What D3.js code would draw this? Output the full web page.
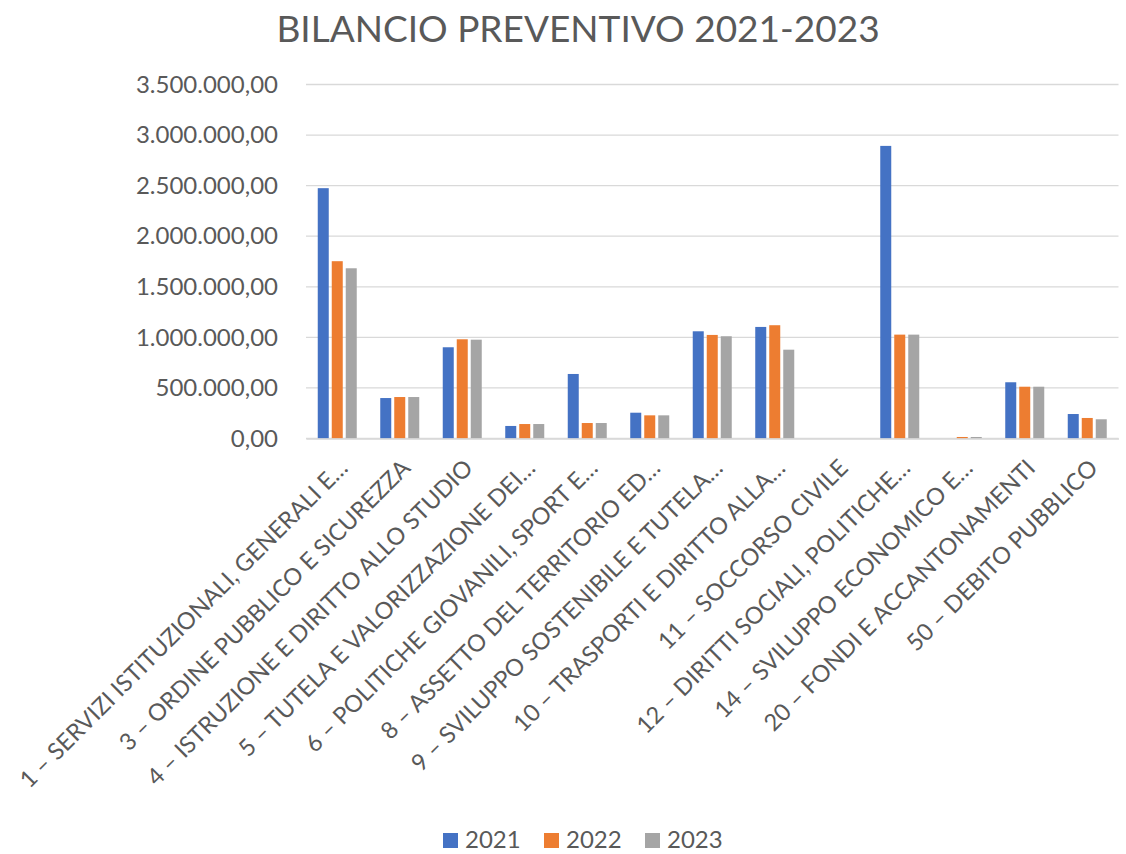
<!DOCTYPE html>
<html>
<head>
<meta charset="utf-8">
<script src="https://cdn.jsdelivr.net/npm/d3@7"></script>
<style>
  body { margin: 0; background: #fff; }
  svg text { font-family: Lato, "Open Sans", sans-serif; fill: #595959; }
</style>
</head>
<body>
<div id="chart"></div>
<script>
'use strict';

// categories (Excel truncated the long ones with an ellipsis)
var categories = [
  '1 – SERVIZI ISTITUZIONALI, GENERALI E…',
  '3 – ORDINE PUBBLICO E SICUREZZA',
  '4 – ISTRUZIONE E DIRITTO ALLO STUDIO',
  '5 – TUTELA E VALORIZZAZIONE DEI…',
  '6 – POLITICHE GIOVANILI, SPORT E…',
  '8 – ASSETTO DEL TERRITORIO ED…',
  '9 – SVILUPPO SOSTENIBILE E TUTELA…',
  '10 – TRASPORTI E DIRITTO ALLA…',
  '11 – SOCCORSO CIVILE',
  '12 – DIRITTI SOCIALI, POLITICHE…',
  '14 – SVILUPPO ECONOMICO E…',
  '20 – FONDI E ACCANTONAMENTI',
  '50 – DEBITO PUBBLICO'
];

var years = ['2021', '2022', '2023'];

var values2021 = [2475000, 400000, 902000, 124000, 638000, 255000, 1060000, 1103000, 0, 2893000, 0, 556000, 242000];
var values2022 = [1753000, 410000, 981000, 143000, 153000, 229000, 1024000, 1120000, 0, 1027000, 15000, 512000, 203000];
var values2023 = [1683000, 410000, 977000, 143000, 153000, 229000, 1011000, 878000, 0, 1027000, 15000, 512000, 190000];

var yTicks = [0, 500000, 1000000, 1500000, 2000000, 2500000, 3000000, 3500000];

var colors = ['#4472C4', '#ED7D31', '#A5A5A5'];

var W = 1126, H = 854;
var plot = { left: 306, right: 1118.5, top: 84.5, bottom: 438.5 };

var series = [values2021, values2022, values2023];

var svg = d3.select('#chart').append('svg')
  .attr('width', W)
  .attr('height', H);

var itFormat = d3.formatLocale({
  decimal: ',', thousands: '.', grouping: [3], currency: ['€', '']
}).format(',.2f');

var x0 = d3.scaleBand()
  .domain(categories)
  .range([plot.left, plot.right])
  .padding(0);

var x1 = d3.scaleBand()
  .domain(years)
  .range([x0.bandwidth() / 2 - 19.5, x0.bandwidth() / 2 + 19.5])
  .paddingInner(3 / 14)
  .paddingOuter(0);

var y = d3.scaleLinear()
  .domain([0, 3500000])
  .range([plot.bottom, plot.top]);

var color = d3.scaleOrdinal().domain(years).range(colors);

// title
svg.append('text')
  .attr('x', 578)
  .attr('y', 42)
  .attr('text-anchor', 'middle')
  .style('font-size', '37px')
  .text('BILANCIO PREVENTIVO 2021-2023');

// gridlines
svg.append('g')
  .selectAll('line')
  .data(yTicks)
  .enter()
  .append('line')
    .attr('x1', plot.left)
    .attr('x2', plot.right)
    .attr('y1', function (d) { return y(d); })
    .attr('y2', function (d) { return y(d); })
    .attr('stroke', '#d9d9d9')
    .attr('stroke-width', 1.3);

// y axis labels
var yAxis = d3.axisLeft(y)
  .tickValues(yTicks)
  .tickFormat(itFormat)
  .tickSize(0)
  .tickPadding(28);

svg.append('g')
  .attr('transform', 'translate(' + plot.left + ',0)')
  .call(yAxis)
  .call(function (g) { g.select('.domain').remove(); })
  .selectAll('text')
    .style('font-size', '24px')
    .style('font-family', 'Lato, sans-serif')
    .attr('fill', '#595959');

// bars
var groups = svg.append('g')
  .selectAll('g')
  .data(categories)
  .enter()
  .append('g')
    .attr('transform', function (d) { return 'translate(' + x0(d) + ',0)'; });

groups.selectAll('rect')
  .data(function (d, i) {
    return years.map(function (yr, j) { return { year: yr, value: series[j][i] }; });
  })
  .enter()
  .append('rect')
    .attr('x', function (d) { return x1(d.year); })
    .attr('y', function (d) { return y(d.value); })
    .attr('width', x1.bandwidth())
    .attr('height', function (d) { return y(0) - y(d.value); })
    .attr('fill', function (d) { return color(d.year); });

// x axis labels, rotated
var xAxis = d3.axisBottom(x0).tickSize(0).tickPadding(0);

var xg = svg.append('g')
  .attr('transform', 'translate(0,' + plot.bottom + ')')
  .call(xAxis);

xg.select('.domain')
  .attr('stroke', '#d9d9d9')
  .attr('stroke-width', 1.3);

xg.selectAll('text')
  .style('font-size', '23.5px')
  .style('font-family', 'Lato, sans-serif')
  .attr('fill', '#595959')
  .attr('text-anchor', 'end')
  .attr('y', 0)
  .attr('dy', 0)
  .attr('transform', 'translate(12,31) rotate(-45)');

// legend
var legend = svg.append('g')
  .selectAll('g')
  .data(years)
  .enter()
  .append('g')
    .attr('transform', function (d, i) { return 'translate(' + (443 + i * 101) + ',833)'; });

legend.append('rect')
  .attr('width', 15)
  .attr('height', 15)
  .attr('fill', function (d) { return color(d); });

legend.append('text')
  .attr('x', 22)
  .attr('y', 15)
  .style('font-size', '24px')
  .text(function (d) { return d; });
</script>
</body>
</html>
